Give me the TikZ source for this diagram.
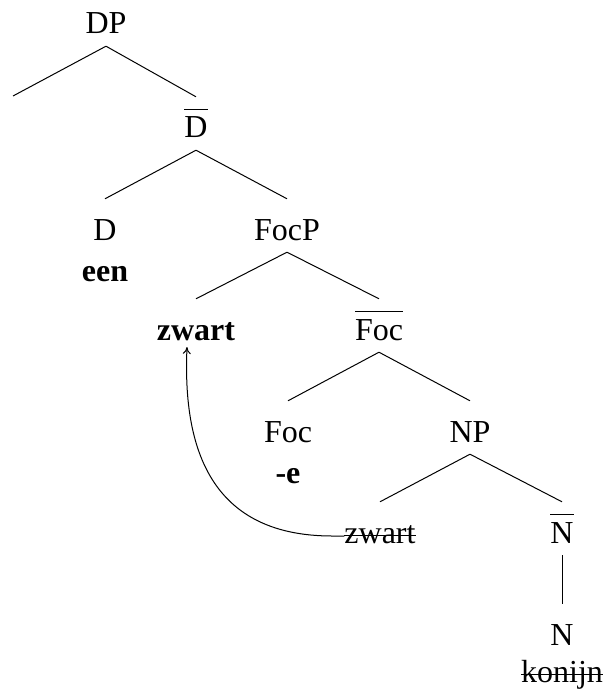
\documentclass[tikz,border=0pt]{standalone}
\usepackage{fontspec}
\setmainfont{Liberation Serif}
\usetikzlibrary{arrows.meta,calc}
\newcommand{\xbar}[1]{\vbox{\hrule height 1pt\kern 7pt\hbox{#1}}}
\newcommand{\struck}[1]{\setbox0\hbox{#1}\rlap{\rule[7pt]{\wd0}{1pt}}\box0}

\begin{document}
\begin{tikzpicture}[x=1pt, y=-1pt]
\tikzstyle{catStyle}=[anchor=base, inner sep=0pt, text height=41pt, text depth=12pt, font=\fontsize{32}{38}\selectfont]
\tikzstyle{boldCatStyle}=[catStyle, font=\fontsize{32}{38}\selectfont\bfseries]
\tikzstyle{wordStyle}=[anchor=base, inner sep=0pt, font=\fontsize{32}{38}\selectfont]
\tikzstyle{boldWordStyle}=[wordStyle, font=\fontsize{32}{38}\selectfont\bfseries]
\tikzstyle{branchStyle}=[line width=1pt]
\useasboundingbox (0,0) rectangle (605,695);
\node[catStyle] (dp) at (106,34) {DP};
\coordinate (spec) at (13,96);
\node[catStyle] (dbar) at (196,138) {\xbar{D}};
\node[catStyle] (d) at (105,240) {D};
\node[boldWordStyle] (een) at (105,281) {een};
\node[catStyle] (focp) at (287,240) {FocP};
\node[boldCatStyle] (zwartup) at (196,340) {zwart};
\node[catStyle] (focbar) at (379,340) {\xbar{Foc}};
\node[catStyle] (foc) at (288,442) {Foc};
\node[boldWordStyle] (affix) at (288,483) {-e};
\node[catStyle] (np) at (470,442) {NP};
\node[catStyle] (zwartlow) at (380,543) {\struck{zwart}};
\node[catStyle] (nbar) at (562,543) {\xbar{N}};
\node[catStyle] (n) at (562,645) {N};
\node[wordStyle] (konijn) at (562,682) {\struck{konijn}};
\draw[branchStyle] (dp.south) -- (spec);
\draw[branchStyle] (dp.south) -- (dbar.north);
\draw[branchStyle] (dbar.south) -- (d.north);
\draw[branchStyle] (dbar.south) -- (focp.north);
\draw[branchStyle] (focp.south) -- (zwartup.north);
\draw[branchStyle] (focp.south) -- (focbar.north);
\draw[branchStyle] (focbar.south) -- (foc.north);
\draw[branchStyle] (focbar.south) -- (np.north);
\draw[branchStyle] (np.south) -- (zwartlow.north);
\draw[branchStyle] (np.south) -- (nbar.north);
\draw[branchStyle] (nbar.south) -- (n.north);
% movement
\draw[branchStyle, -{To[length=7pt,width=8pt]}] ($(zwartlow.base west)+(0,-7)$) -- ++(-12,0) .. controls (205,536) and (183,440) .. ($(zwartup.base)+(-9,7)$);
\end{tikzpicture}
\end{document}
